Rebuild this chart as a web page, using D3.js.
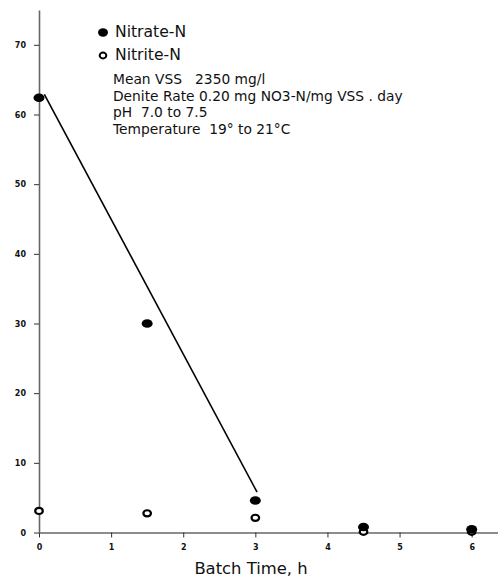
<!DOCTYPE html>
<html>
<head>
<meta charset="utf-8">
<script src="https://cdn.jsdelivr.net/npm/d3@7"></script>
<style>
  body { margin: 0; background: #fff; }
  text { font-family: "DejaVu Sans", Verdana, sans-serif; white-space: pre; }
</style>
</head>
<body>
<svg id="chart" width="498" height="578"></svg>
<script>
// batch times (h)
var times = [0, 1.5, 3, 4.5, 6];
var nitrate = [62.4, 30, 4.6, 0.8, 0.45];
var nitrite = [3.1, 2.75, 2.1, 0.1, 0.1];
// fitted line end points
var fitX = [0.074, 3.024];
var fitY = [62.9, 5.8];
var xTicks = [0, 1, 2, 3, 4, 5, 6];
var yTicks = [0, 10, 20, 30, 40, 50, 60, 70];
var legendNames = ["Nitrate-N", "Nitrite-N"];
var notes = ["Mean VSS   2350 mg/l",
             "Denite Rate 0.20 mg NO3-N/mg VSS . day",
             "pH  7.0 to 7.5",
             "Temperature  19\u00b0 to 21\u00b0C"];

var svg = d3.select("#chart");
var x = d3.scaleLinear().domain([0, 6.365]).range([39, 498]);
var y = d3.scaleLinear().domain([0, 75]).range([532.5, 10]);

// axes
var xAxis = svg.append("g")
    .attr("transform", "translate(0," + y(0) + ")")
    .call(d3.axisBottom(x).tickValues(xTicks).tickFormat(d3.format("d"))
        .tickSize(5).tickPadding(7).tickSizeOuter(0));
var yAxis = svg.append("g")
    .attr("transform", "translate(" + x(0) + ",0)")
    .call(d3.axisLeft(y).tickValues(yTicks).tickFormat(d3.format("d"))
        .tickSize(5).tickPadding(8).tickSizeOuter(0));

[xAxis, yAxis].forEach(function(a) {
    a.select(".domain").attr("stroke", "#666").attr("stroke-width", 1.6);
    a.selectAll(".tick line").attr("stroke", "#333");
    a.selectAll(".tick text")
        .style("font-family", "'DejaVu Sans', sans-serif")
        .style("font-size", "8px")
        .style("font-weight", "bold")
        .attr("fill", "#111");
});

svg.append("text")
    .attr("x", 251).attr("y", 574)
    .attr("text-anchor", "middle")
    .style("font-size", "16.4px")
    .attr("fill", "#111")
    .text("Batch Time, h");

// fit line
svg.append("line")
    .attr("x1", x(fitX[0])).attr("y1", y(fitY[0]))
    .attr("x2", x(fitX[1])).attr("y2", y(fitY[1]))
    .attr("stroke", "#000").attr("stroke-width", 1.6);

// nitrite (open)
svg.selectAll(".nitrite").data(times).enter().append("ellipse")
    .attr("class", "nitrite")
    .attr("cx", function(d) { return x(d); })
    .attr("cy", function(d, i) { return y(nitrite[i]); })
    .attr("rx", 3.8).attr("ry", 3.1)
    .attr("fill", "#fff").attr("stroke", "#000").attr("stroke-width", 2.2);

// nitrate (filled)
svg.selectAll(".nitrate").data(times).enter().append("ellipse")
    .attr("class", "nitrate")
    .attr("cx", function(d) { return x(d); })
    .attr("cy", function(d, i) { return y(nitrate[i]); })
    .attr("rx", 5.5).attr("ry", 4.3)
    .attr("fill", "#000");

// legend
var legend = svg.selectAll(".legend").data(legendNames).enter().append("g")
    .attr("class", "legend")
    .attr("transform", function(d, i) { return "translate(103," + (32.5 + i * 23) + ")"; });
legend.append("ellipse")
    .attr("rx", function(d, i) { return i === 0 ? 5 : 3.3; })
    .attr("ry", function(d, i) { return i === 0 ? 4.2 : 2.9; })
    .attr("fill", function(d, i) { return i === 0 ? "#000" : "#fff"; })
    .attr("stroke", "#000")
    .attr("stroke-width", function(d, i) { return i === 0 ? 0 : 2; });
legend.append("text")
    .attr("x", 12).attr("y", 4.5)
    .style("font-size", "15.6px")
    .attr("fill", "#111")
    .text(function(d) { return d; });

svg.selectAll(".note").data(notes).enter().append("text")
    .attr("class", "note")
    .attr("x", 113)
    .attr("y", function(d, i) { return 84 + i * 16.5; })
    .style("font-size", "13.8px")
    .attr("fill", "#111")
    .text(function(d) { return d; });
</script>
</body>
</html>
